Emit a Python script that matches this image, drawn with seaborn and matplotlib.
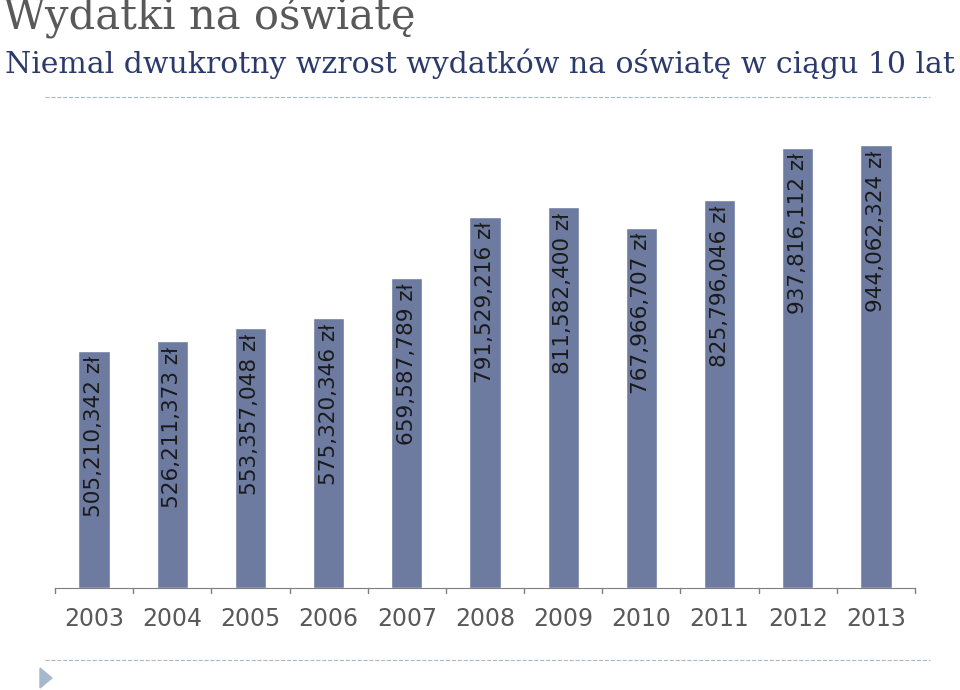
import matplotlib
matplotlib.use("Agg")
import matplotlib.pyplot as plt
import seaborn as sns
import pandas as pd
from matplotlib.lines import Line2D

years = ["2003", "2004", "2005", "2006", "2007", "2008", "2009", "2010", "2011", "2012", "2013"]
values = [505210342, 526211373, 553357048, 575320346, 659587789, 791529216,
          811582400, 767966707, 825796046, 937816112, 944062324]
labels = ["505,210,342 zł", "526,211,373 zł", "553,357,048 zł", "575,320,346 zł",
          "659,587,789 zł", "791,529,216 zł", "811,582,400 zł", "767,966,707 zł",
          "825,796,046 zł", "937,816,112 zł", "944,062,324 zł"]

sns.set_style("white")
plt.rcParams["font.family"] = ["DejaVu Serif"]

df = pd.DataFrame({"year": years, "value": values})
fig = plt.figure(figsize=(9.6, 6.9), dpi=100)
ax = fig.add_axes([55 / 960, 1 - 588 / 690, 860 / 960, (588 - 145) / 690])
sns.barplot(data=df, x="year", y="value", color="#6E7BA1", saturation=1, width=0.4, ax=ax)
ax.set_xlim(-0.5, 10.5)
ax.set_ylim(0, max(values))
ax.set_xlabel("")
ax.set_ylabel("")
ax.set_yticks([])
for s in ["top", "right", "left"]:
    ax.spines[s].set_visible(False)
ax.spines["bottom"].set_color("#7F7F7F")
ax.tick_params(axis="x", labelsize=17, colors="#595959", length=0, pad=14)
for t in ax.get_xticklabels():
    t.set_family("DejaVu Sans")
for i in range(12):
    ax.plot([i - 0.5, i - 0.5], [0, -max(values) * 0.012], color="#7F7F7F", lw=1, clip_on=False)
for i, (v, lab) in enumerate(zip(values, labels)):
    ax.text(i, v - max(values) * 0.012, lab, rotation=90, ha="center", va="top",
            fontsize=15.5, color="#1A1A1A", family="DejaVu Sans")

fig.text(0.003, 0.945, "Wydatki na oświatę", fontsize=30, color="#595959", va="bottom")
fig.text(0.005, 0.885, "Niemal dwukrotny wzrost wydatków na oświatę w ciągu 10 lat",
         fontsize=21.5, color="#2B3A6B", va="bottom")
fig.add_artist(Line2D([45 / 960, 930 / 960], [1 - 97 / 690] * 2, ls="--", lw=0.8, color="#A8B8C8"))
fig.add_artist(Line2D([45 / 960, 930 / 960], [1 - 660 / 690] * 2, ls="--", lw=0.8, color="#A8B8C8"))
fig.add_artist(plt.Polygon([[40 / 960, 1 - 668 / 690], [40 / 960, 1 - 688 / 690], [52 / 960, 1 - 678 / 690]],
                           closed=True, color="#A8B8CC", transform=fig.transFigure))
fig.savefig("out.png", dpi=100)
